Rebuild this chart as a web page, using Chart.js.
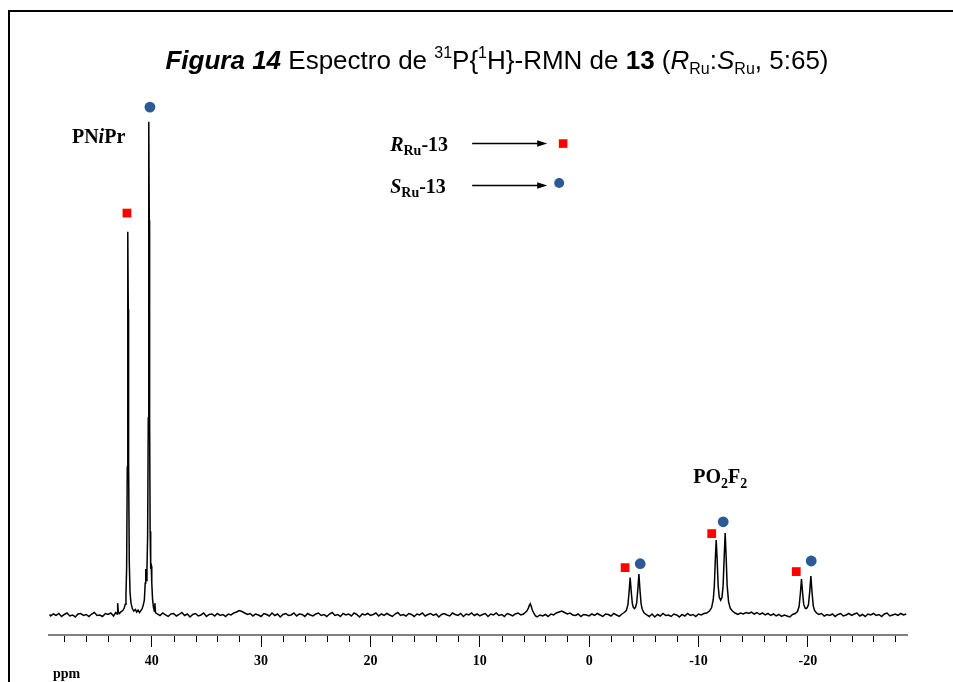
<!DOCTYPE html>
<html>
<head>
<meta charset="utf-8">
<title>Figura 14</title>
<script src="https://cdn.jsdelivr.net/npm/chart.js@4.4.1/dist/chart.umd.min.js"></script>
<style>
  html, body { margin: 0; padding: 0; background: #fff; overflow: hidden; }
  #wrap { position: relative; width: 953px; height: 682px; overflow: hidden; }
  #frame { position: absolute; left: 8px; top: 10px; width: 980px; height: 700px;
           border-left: 2px solid #000; border-top: 2px solid #000; }
  #title { position: absolute; left: 497px; top: 38px; transform: translateX(-50%);
           white-space: nowrap; font-family: "Liberation Sans", Arial, sans-serif;
           font-size: 26px; line-height: 30px; color: #000; }
  #title .sup { font-size: 16px; vertical-align: 11px; }
  #title .sub { font-size: 16px; vertical-align: -5px; }
  canvas { position: absolute; left: 0; top: 0; }
</style>
</head>
<body>
<div id="wrap">
  <div id="frame"></div>
  <canvas id="c" width="953" height="682"></canvas>
  <div id="title"><b><i>Figura 14</i></b> Espectro de <span class="sup">31</span>P{<span class="sup">1</span>H}-RMN de <b>13</b> (<i>R</i><span class="sub">Ru</span>:<i>S</i><span class="sub">Ru</span>, 5:65)</div>
</div>
<script>
// 31P{1H} spectrum: [chemical shift (ppm), relative intensity]
const spectrum = [
  [49.35,0.1],[49.25,-0.2],[49,0.2],[48.75,-0.1],[48.5,0.3],[48.25,-0.3],[48,0.1],[47.75,0.4],
  [47.5,-0.2],[47.25,0.0],[47,-0.4],[46.75,0.2],[46.5,0.3],[46.25,-0.1],[46,0.1],[45.75,-0.3],
  [45.5,0.2],[45.25,0.5],[45,-0.1],[44.75,0.0],[44.5,-0.3],[44.25,0.3],[44,0.1],[43.75,0.4],
  [43.5,-0.2],[43.3,0.5],[43.18,0.2],[43.12,2.4],[43.06,0.6],[42.95,0.3],[42.8,0.7],
  // PNiPr, R isomer
  [42.65,0.9],[42.52,1.4],[42.43,2.2],[42.36,4.2],[42.3,9.5],[42.24,30],[42.21,60],[42.18,77.7],
  [42.15,62],[42.12,31],[42.06,11],[41.99,4.6],[41.9,2.4],[41.78,1.3],[41.65,0.8],[41.5,1.1],
  [41.38,0.6],[41.25,1.0],[41.12,0.5],[41,0.9],[40.88,1.3],[40.78,2.0],[40.68,3.0],[40.6,6.5],
  [40.55,9.3],[40.5,7],
  // PNiPr, S isomer
  [40.44,9.5],[40.38,16],[40.32,40],[40.29,78],[40.26,100],[40.23,80],[40.2,41],[40.15,17],
  [40.1,9.8],[40.05,10],[40.0,6.5],[39.93,3.2],[39.85,1.6],[39.77,0.8],[39.72,2.4],[39.66,0.5],
  [39.5,0.2],[39.25,-0.1],
  [39,0.4],[38.75,0.0],[38.5,-0.3],[38.25,0.2],[38,0.3],[37.75,-0.2],[37.5,0.1],[37.25,0.5],
  [37,-0.1],[36.75,0.2],[36.5,-0.4],[36.25,0.1],[36,0.3],[35.75,-0.2],[35.5,0.0],[35.25,0.4],
  [35,-0.3],[34.75,0.1],[34.5,0.2],[34.25,-0.2],[34,0.3],[33.75,-0.1],[33.5,0.1],[33.25,-0.3],
  [33,0.2],[32.75,0.0],[32.5,0.4],[32.25,0.6],[32,0.9],[31.75,0.7],[31.5,0.4],[31.25,0.1],
  [31,0.3],[30.75,-0.2],[30.5,0.2],[30.25,0.0],[30,-0.3],[29.75,0.3],[29.5,0.1],[29.25,-0.2],
  [29,0.4],[28.75,-0.1],[28.5,0.2],[28.25,-0.4],[28,0.1],[27.75,0.3],[27.5,-0.1],[27.25,0.0],
  [27,0.4],[26.75,-0.2],[26.5,0.2],[26.25,0.1],[26,-0.3],[25.75,0.3],[25.5,0.0],[25.25,-0.2],
  [25,0.2],[24.75,0.4],[24.5,-0.1],[24.25,0.1],[24,-0.3],[23.75,0.2],[23.5,0.5],[23.25,-0.1],
  [23,0.1],[22.75,-0.3],[22.5,0.3],[22.25,0.0],[22,0.2],[21.75,-0.2],[21.5,0.4],[21.25,0.1],
  [21,-0.4],[20.75,0.2],[20.5,0.0],[20.25,0.3],[20,-0.1],[19.75,0.1],[19.5,0.4],[19.25,-0.2],
  [19,0.2],[18.75,-0.1],[18.5,0.3],[18.25,0.0],[18,-0.3],[17.75,0.2],[17.5,0.5],[17.25,-0.1],
  [17,0.1],[16.75,-0.2],[16.5,0.3],[16.25,0.1],[16,-0.3],[15.75,0.2],[15.5,0.0],[15.25,0.4],
  [15,-0.2],[14.75,0.1],[14.5,0.3],[14.25,-0.1],[14,0.2],[13.75,-0.4],[13.5,0.1],[13.25,0.3],
  [13,0.0],[12.75,-0.2],[12.5,0.4],[12.25,0.1],[12,-0.1],[11.75,0.3],[11.5,-0.3],[11.25,0.2],
  [11,0.0],[10.75,0.4],[10.5,-0.1],[10.25,0.2],[10,-0.2],[9.75,0.1],[9.5,0.3],[9.25,-0.3],
  [9,0.2],[8.75,0.0],[8.5,0.4],[8.25,-0.1],[8,0.1],[7.75,-0.3],[7.5,0.3],[7.25,0.1],
  [7,-0.2],[6.75,0.2],[6.5,0.4],[6.25,0.0],[6,0.2],[5.85,0.5],[5.7,0.8],[5.56,1.4],
  [5.46,2.0],[5.38,2.3],[5.3,1.8],[5.2,1.0],[5.05,0.3],[4.9,-0.2],[4.75,-0.4],[4.5,0.0],
  [4.25,-0.2],[4,0.1],[3.75,-0.3],[3.5,0.2],[3.25,0.0],[3,0.4],[2.75,0.6],[2.5,0.8],
  [2.25,0.5],[2,0.2],[1.75,0.4],[1.5,0.0],[1.25,-0.1],[1,0.2],[0.75,-0.3],[0.5,0.1],
  [0.25,0.0],[0,-0.2],[-0.25,0.2],[-0.5,-0.1],[-0.75,0.3],[-1,0.0],[-1.25,-0.3],[-1.5,0.2],
  [-1.75,0.1],[-2,-0.2],[-2.25,0.3],[-2.5,0.0],[-2.75,-0.3],[-3,0.2],[-3.2,0.5],[-3.4,0.9],
  [-3.55,2.1],[-3.65,4.6],[-3.75,7.6],[-3.85,4.7],[-3.95,2.3],[-4.05,1.5],[-4.15,1.3],[-4.25,1.6],
  [-4.35,2.5],[-4.45,5.1],[-4.55,8.3],[-4.65,5.0],[-4.75,2.3],[-4.85,1.2],[-5,0.5],[-5.2,0.1],
  [-5.5,-0.3],[-5.75,0.2],[-6,-0.4],[-6.25,0.1],[-6.5,-0.2],[-6.75,0.3],[-7,-0.1],[-7.25,0.0],
  [-7.5,-0.3],[-7.75,0.2],[-8,0.0],[-8.25,-0.4],[-8.5,0.1],[-8.75,-0.2],[-9,0.3],[-9.25,-0.1],
  [-9.5,0.1],[-9.75,-0.3],[-10,0.2],[-10.25,0.0],[-10.5,0.3],[-10.75,0.4],[-11,0.8],[-11.2,1.5],
  // PO2F2
  [-11.35,3.1],[-11.45,5.9],[-11.54,11.3],[-11.62,15.2],[-11.7,11.5],[-11.8,5.9],[-11.9,3.6],[-12.03,3.0],
  [-12.15,3.6],[-12.25,5.9],[-12.35,11.7],[-12.44,16.6],[-12.52,12.3],[-12.62,6.0],[-12.75,2.7],[-12.9,1.4],
  [-13.1,0.8],[-13.35,0.4],[-13.6,0.1],[-13.85,0.4],[-14.1,0.2],[-14.35,0.5],[-14.6,0.3],[-14.85,0.6],
  [-15.1,0.2],[-15.35,0.5],[-15.6,0.1],[-15.85,0.4],[-16.1,0.0],[-16.35,0.3],[-16.6,-0.1],[-16.85,0.2],
  [-17.1,-0.2],[-17.35,0.1],[-17.6,-0.3],[-17.85,0.0],[-18.1,-0.2],[-18.35,-0.4],[-18.6,0.1],[-18.85,0.3],
  [-19.05,0.7],[-19.2,1.7],[-19.32,4.4],[-19.42,7.3],[-19.52,4.5],[-19.62,2.2],[-19.75,1.4],[-19.85,1.3],
  [-19.95,1.5],[-20.06,2.1],[-20.18,4.9],[-20.28,7.9],[-20.38,4.7],[-20.5,1.8],[-20.62,0.9],[-20.8,0.4],
  [-21,0.1],[-21.25,0.3],[-21.5,-0.2],[-21.75,0.1],[-22,-0.1],[-22.25,0.2],[-22.5,-0.3],[-22.75,0.1],
  [-23,0.3],[-23.25,-0.2],[-23.5,0.0],[-23.75,0.3],[-24,-0.1],[-24.25,0.2],[-24.5,0.4],[-24.75,-0.2],
  [-25,0.1],[-25.25,-0.3],[-25.5,0.2],[-25.75,0.0],[-26,0.3],[-26.25,-0.1],[-26.5,0.1],[-26.75,-0.3],
  [-27,0.2],[-27.25,0.4],[-27.5,-0.2],[-27.75,0.0],[-28,0.2],[-28.25,-0.1],[-28.5,0.3],[-28.75,0.0],
  [-29.0,0.2]
];

// Signal assignments: marker placed above each resonance
const rRuSignals = [[42.27,81.5],[-3.29,9.6],[-11.21,16.5],[-18.94,8.8]];
const sRuSignals = [[40.17,103.0],[-4.67,10.4],[-12.26,18.9],[-20.31,10.95]];

// Axis ticks (ppm)
const majorTicks = [40,30,20,10,0,-10,-20];
const minorTicks = [48,46,44,42,38,36,34,32,28,26,24,22,18,16,14,12,8,6,4,2,
                    -2,-4,-6,-8,-12,-14,-16,-18,-22,-24,-26,-28];

const RED = '#ff0000';
const BLUE = '#2c5a96';
const SERIF = '"Liberation Serif", "Times New Roman", serif';
const fB  = 'bold 20px ' + SERIF;
const fBI = 'italic bold 20px ' + SERIF;
const fSub = 'bold 14px ' + SERIF;

// Annotation placement in data units (ppm, intensity)
const labels = {
  pnipr: { x: 47.3, y: 95.7 },
  po2f2: { x: -9.52, y: 26.8 },
  rKey:  { x: 18.2, y: 94.1, arrowFrom: 10.7, arrowTo: 3.84, arrowY: 95.7, markX: 2.38, markY: 95.6 },
  sKey:  { x: 18.2, y: 85.6, arrowFrom: 10.7, arrowTo: 3.84, arrowY: 87.2, markX: 2.74, markY: 87.6 }
};

function rich(ctx, x, y, parts) {
  let cx = x;
  for (const p of parts) {
    ctx.font = p.f;
    ctx.fillText(p.t, cx, y + (p.dy || 0));
    cx += ctx.measureText(p.t).width;
  }
}

function arrow(ctx, x1, x2, y) {
  ctx.beginPath();
  ctx.moveTo(x1, y);
  ctx.lineTo(x2 - 6, y);
  ctx.lineWidth = 1.6;
  ctx.strokeStyle = '#000';
  ctx.stroke();
  ctx.beginPath();
  ctx.moveTo(x2, y);
  ctx.lineTo(x2 - 10, y - 3.2);
  ctx.lineTo(x2 - 10, y + 3.2);
  ctx.closePath();
  ctx.fillStyle = '#000';
  ctx.fill();
}

const annotate = {
  id: 'annotate',
  afterDraw(chart) {
    const { ctx, chartArea } = chart;
    const sx = chart.scales.x, sy = chart.scales.y;
    const px = v => sx.getPixelForValue(v);
    const py = v => sy.getPixelForValue(v);
    ctx.save();

    // minor tick marks
    ctx.strokeStyle = '#000';
    ctx.lineWidth = 1;
    for (const v of minorTicks) {
      const x = Math.round(px(v)) + 0.5;
      ctx.beginPath();
      ctx.moveTo(x, chartArea.bottom + 1);
      ctx.lineTo(x, chartArea.bottom + 7);
      ctx.stroke();
    }

    // unit label
    ctx.fillStyle = '#000';
    ctx.textBaseline = 'alphabetic';
    ctx.font = 'bold 14px ' + SERIF;
    ctx.fillText('ppm', chartArea.left + 4, chartArea.bottom + 43);

    // peak group labels
    rich(ctx, px(labels.pnipr.x), py(labels.pnipr.y), [
      { t: 'PN', f: fB }, { t: 'i', f: fBI }, { t: 'Pr', f: fB }
    ]);
    rich(ctx, px(labels.po2f2.x), py(labels.po2f2.y), [
      { t: 'PO', f: fB }, { t: '2', f: fSub, dy: 5 }, { t: 'F', f: fB }, { t: '2', f: fSub, dy: 5 }
    ]);

    // key
    const r = labels.rKey, s = labels.sKey;
    rich(ctx, px(r.x), py(r.y), [
      { t: 'R', f: fBI }, { t: 'Ru', f: fSub, dy: 4 }, { t: '-13', f: fB }
    ]);
    rich(ctx, px(s.x), py(s.y), [
      { t: 'S', f: fBI }, { t: 'Ru', f: fSub, dy: 4 }, { t: '-13', f: fB }
    ]);
    arrow(ctx, px(r.arrowFrom), px(r.arrowTo), Math.round(py(r.arrowY)) + 0.5);
    arrow(ctx, px(s.arrowFrom), px(s.arrowTo), Math.round(py(s.arrowY)) + 0.5);
    ctx.fillStyle = RED;
    ctx.fillRect(px(r.markX) - 4.3, py(r.markY) - 4.3, 8.6, 8.6);
    ctx.fillStyle = BLUE;
    ctx.beginPath();
    ctx.arc(px(s.markX), py(s.markY), 5, 0, Math.PI * 2);
    ctx.fill();

    ctx.restore();
  }
};

new Chart(document.getElementById('c'), {
  type: 'line',
  data: {
    datasets: [
      {
        label: 'espectro',
        data: spectrum.map(([x, y]) => ({ x, y })),
        borderColor: '#000',
        borderWidth: 1.5,
        pointRadius: 0,
        tension: 0,
        fill: false,
        order: 2
      },
      {
        type: 'scatter',
        label: 'RRu-13',
        data: rRuSignals.map(([x, y]) => ({ x, y })),
        pointStyle: 'rect',
        pointRadius: 6.2,
        backgroundColor: RED,
        borderWidth: 0,
        order: 1
      },
      {
        type: 'scatter',
        label: 'SRu-13',
        data: sRuSignals.map(([x, y]) => ({ x, y })),
        pointStyle: 'circle',
        pointRadius: 5.4,
        backgroundColor: BLUE,
        borderWidth: 0,
        order: 1
      }
    ]
  },
  options: {
    responsive: false,
    animation: false,
    devicePixelRatio: 1,
    layout: { padding: { left: 49, right: 46, top: 40, bottom: 0 } },
    plugins: { legend: { display: false }, tooltip: { enabled: false } },
    scales: {
      x: {
        type: 'linear',
        reverse: true,
        min: -29.07,
        max: 49.4,
        afterBuildTicks: scale => { scale.ticks = majorTicks.map(v => ({ value: v })); },
        afterFit: scale => { scale.height = 47; },
        border: { color: '#808080', width: 2 },
        grid: { drawOnChartArea: false, tickLength: 12, tickColor: '#000', tickWidth: 1 },
        ticks: {
          autoSkip: false,
          maxRotation: 0,
          padding: 6,
          color: '#000',
          font: { family: SERIF, size: 14, weight: 'bold' }
        }
      },
      y: { display: false, min: -4.06, max: 116.6 }
    }
  },
  plugins: [annotate]
});
</script>
</body>
</html>
